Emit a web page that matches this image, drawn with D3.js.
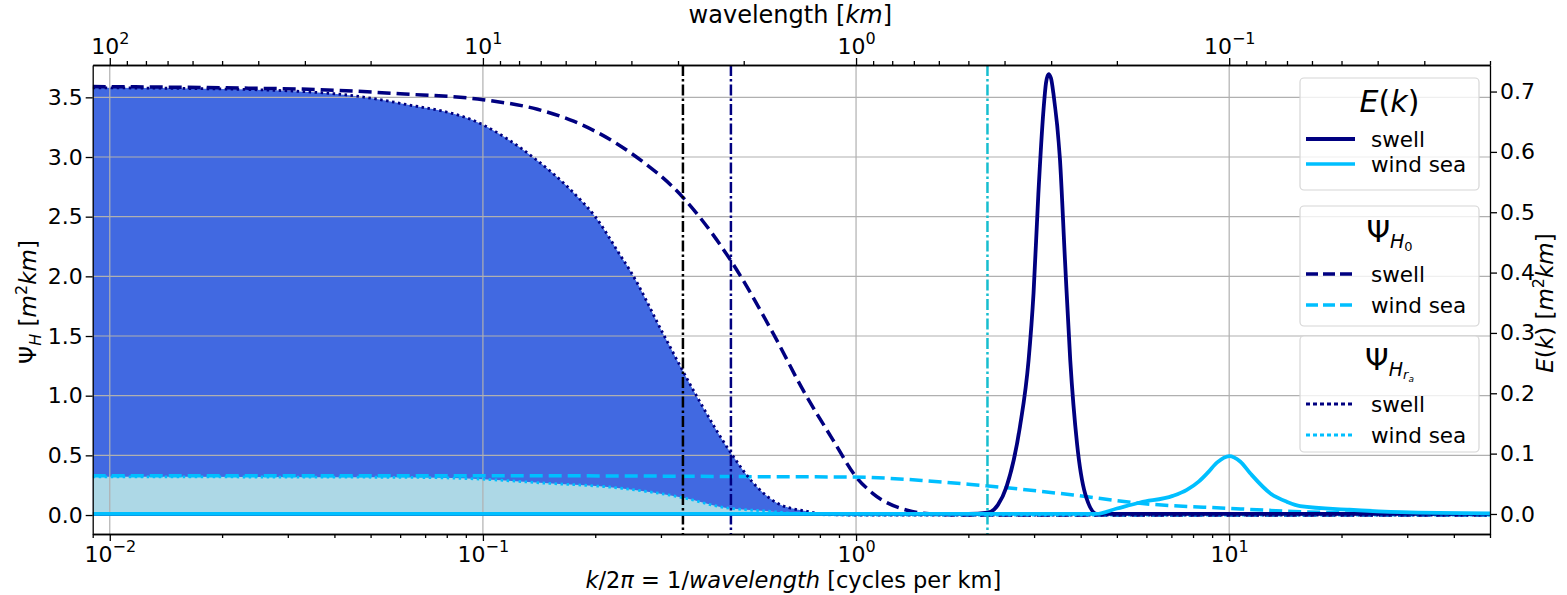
<!DOCTYPE html>
<html>
<head>
<meta charset="utf-8">
<script src="https://cdn.jsdelivr.net/npm/d3@7"></script>
<style>
  body { margin: 0; background: #fff; }
  svg text { font-family: "DejaVu Sans", sans-serif; fill: #000; }
</style>
</head>
<body>
<svg id="chart" width="1567" height="595"></svg>
<script>
// wavenumber k/2pi [cycles per km] and read-off values for every series
const swellEk = [0.009, 2.0, 2.25, 2.4, 2.53, 2.75, 2.9, 2.99, 3.08, 3.18, 3.23, 3.28, 3.33, 3.38, 3.52, 3.63, 3.75, 3.91, 4.11, 4.42, 50];
const swellE  = [0, 0, 0.002, 0.015, 0.045, 0.145, 0.255, 0.366, 0.53, 0.67, 0.715, 0.729, 0.722, 0.697, 0.587, 0.421, 0.255, 0.117, 0.034, 0, 0];

const windEk = [0.009, 4.4, 5.0, 5.77, 7.06, 7.7, 8.3, 8.75, 9.27, 10, 10.7, 11.4, 12.9, 14.3, 15.5, 21, 29, 50];
const windE  = [0, 0, 0.009, 0.019, 0.03, 0.04, 0.054, 0.068, 0.085, 0.096, 0.087, 0.067, 0.034, 0.02, 0.013, 0.007, 0.003, 0.001];

const swellH0k = [0.009, 0.02, 0.04, 0.06, 0.1, 0.14, 0.175, 0.25, 0.344, 0.46, 0.6, 0.72, 0.867, 1.0, 1.11, 1.37, 1.65, 2.0, 50];
const swellH0  = [3.59, 3.58, 3.56, 3.53, 3.48, 3.40, 3.30, 3.03, 2.66, 2.14, 1.52, 1.05, 0.63, 0.32, 0.18, 0.04, 0.005, 0, 0];

const swellHrk = [0.009, 0.02, 0.04, 0.06, 0.1, 0.136, 0.175, 0.2, 0.233, 0.25, 0.304, 0.375, 0.462, 0.53, 0.614, 0.74, 0.83, 1.0, 50];
const swellHr  = [3.58, 3.57, 3.53, 3.45, 3.27, 3.00, 2.70, 2.50, 2.18, 2.03, 1.52, 0.99, 0.52, 0.27, 0.10, 0.03, 0.005, 0, 0];

const windH0k = [0.009, 0.1, 0.25, 0.5, 0.98, 1.5, 2.0, 2.26, 3.82, 5.77, 10, 15.5, 28.7, 50];
const windH0  = [0.33, 0.33, 0.327, 0.322, 0.318, 0.29, 0.258, 0.243, 0.168, 0.098, 0.056, 0.028, 0.01, 0.003];

const windHrk = [0.009, 0.06, 0.1, 0.142, 0.233, 0.35, 0.43, 0.59, 0.75, 1.0, 50];
const windHr  = [0.32, 0.316, 0.30, 0.27, 0.225, 0.14, 0.07, 0.03, 0.005, 0, 0];

const cutoffs = [
  { k: 0.3436, color: "#000000" },
  { k: 0.462, color: "#000080" },
  { k: 2.25, color: "#17becf" }
];

const leftTicks = [0, 0.5, 1.0, 1.5, 2.0, 2.5, 3.0, 3.5];
const rightTicks = [0, 0.1, 0.2, 0.3, 0.4, 0.5, 0.6, 0.7];
const bottomMajor = [0.01, 0.1, 1, 10];
const bottomMajorExp = ["\u22122", "\u22121", "0", "1"];
const topMajor = [100, 10, 1, 0.1];
const topMajorExp = ["2", "1", "0", "\u22121"];

const navy = "#000080";
const sky = "#00bfff";

const width = 1567;
const height = 595;
const m = { l: 92.7, r: 1490, t: 65, b: 534 };

const svg = d3.select("#chart");

const x = d3.scaleLog().domain([0.009, 50]).range([m.l, m.r]);
const xTop = d3.scaleLog().domain([1 / 0.009, 1 / 50]).range([m.l, m.r]);
const yL = d3.scaleLinear().domain([-0.159, 3.771]).range([m.b, m.t]);
const yR = d3.scaleLinear().domain([-0.0332, 0.744]).range([m.b, m.t]);

svg.append("defs").append("clipPath").attr("id", "plot")
  .append("rect").attr("x", m.l).attr("y", m.t).attr("width", m.r - m.l).attr("height", m.b - m.t);

const plot = svg.append("g").attr("clip-path", "url(#plot)");

const zip = (ks, vs) => ks.map((k, i) => [k, vs[i]]);

function areaFor(y) {
  return d3.area().x(d => x(d[0])).y0(y(0)).y1(d => y(d[1])).curve(d3.curveMonotoneX);
}
function lineFor(y) {
  return d3.line().x(d => x(d[0])).y(d => y(d[1])).curve(d3.curveMonotoneX);
}

// filled areas under the H_ra curves
plot.append("path").attr("d", areaFor(yL)(zip(swellHrk, swellHr))).attr("fill", "#4169e1");
plot.append("path").attr("d", areaFor(yL)(zip(windHrk, windHr))).attr("fill", "#add8e6");

// grid
const minorK = [];
for (let e = -3; e <= 1; e++) {
  for (let j = 2; j <= 9; j++) {
    const v = j * Math.pow(10, e);
    if (v >= 0.009 && v <= 50) minorK.push(v);
  }
}
const minorW = [];
for (let e = -2; e <= 2; e++) {
  for (let j = 2; j <= 9; j++) {
    const v = j * Math.pow(10, e);
    if (v >= 0.02 && v <= 1 / 0.009) minorW.push(v);
  }
}

const grid = plot.append("g").attr("stroke", "#b0b0b0").attr("stroke-width", 1.2);
grid.selectAll(".gx").data(bottomMajor).join("line")
  .attr("x1", d => x(d)).attr("x2", d => x(d)).attr("y1", m.t).attr("y2", m.b);
grid.selectAll(".gy").data(leftTicks).join("line")
  .attr("x1", m.l).attr("x2", m.r).attr("y1", d => yL(d)).attr("y2", d => yL(d));

// psi curves (left axis)
plot.append("path").attr("d", lineFor(yL)(zip(swellH0k, swellH0)))
  .attr("fill", "none").attr("stroke", navy).attr("stroke-width", 3.5).attr("stroke-dasharray", "13,6");
plot.append("path").attr("d", lineFor(yL)(zip(windH0k, windH0)))
  .attr("fill", "none").attr("stroke", sky).attr("stroke-width", 3.5).attr("stroke-dasharray", "13,6");
plot.append("path").attr("d", lineFor(yL)(zip(swellHrk, swellHr)))
  .attr("fill", "none").attr("stroke", navy).attr("stroke-width", 2.8).attr("stroke-dasharray", "2.5,3.5");
plot.append("path").attr("d", lineFor(yL)(zip(windHrk, windHr)))
  .attr("fill", "none").attr("stroke", sky).attr("stroke-width", 2.8).attr("stroke-dasharray", "2.5,3.5");

// vertical cut-off lines
plot.selectAll(".cut").data(cutoffs).join("line")
  .attr("x1", d => x(d.k)).attr("x2", d => x(d.k)).attr("y1", m.t).attr("y2", m.b)
  .attr("stroke", d => d.color).attr("stroke-width", 2.5).attr("stroke-dasharray", "11,3,2.5,3");

// E(k) curves (right axis)
plot.append("path").attr("d", lineFor(yR)(zip(swellEk, swellE)))
  .attr("fill", "none").attr("stroke", navy).attr("stroke-width", 3.8);
plot.append("path").attr("d", lineFor(yR)(zip(windEk, windE)))
  .attr("fill", "none").attr("stroke", sky).attr("stroke-width", 3.8);

// axes
const tickFont = 22;

function rich(sel, parts, base) {
  let cur = 0;
  parts.forEach(p => {
    const off = p.off || 0;
    sel.append("tspan")
      .attr("dy", off - cur)
      .attr("font-size", p.size || base)
      .attr("font-style", p.it ? "italic" : null)
      .text(p.t);
    cur = off;
  });
}

const axisStyle = g => {
  g.select(".domain").attr("stroke", "#000").attr("stroke-width", 1.3);
  g.selectAll(".tick line").attr("stroke", "#000").attr("stroke-width", 1.3);
};

const xb = svg.append("g").attr("transform", `translate(0,${m.b})`)
  .call(d3.axisBottom(x).tickValues(bottomMajor).tickFormat("").tickSize(7).tickSizeOuter(0)).call(axisStyle);
svg.append("g").attr("transform", `translate(0,${m.b})`)
  .call(d3.axisBottom(x).tickValues(minorK).tickFormat("").tickSize(4).tickSizeOuter(0)).call(axisStyle);
xb.selectAll(".tick").append("text")
  .attr("y", 28).attr("text-anchor", "middle")
  .each(function (d, i) {
    rich(d3.select(this), [{ t: "10" }, { t: bottomMajorExp[i], size: 16, off: -10 }], tickFont);
  });

const xt = svg.append("g").attr("transform", `translate(0,${m.t})`)
  .call(d3.axisTop(xTop).tickValues(topMajor).tickFormat("").tickSize(7).tickSizeOuter(0)).call(axisStyle);
svg.append("g").attr("transform", `translate(0,${m.t})`)
  .call(d3.axisTop(xTop).tickValues(minorW).tickFormat("").tickSize(4).tickSizeOuter(0)).call(axisStyle);
xt.selectAll(".tick").append("text")
  .attr("y", -11).attr("text-anchor", "middle")
  .each(function (d, i) {
    rich(d3.select(this), [{ t: "10" }, { t: topMajorExp[i], size: 16, off: -10 }], tickFont);
  });

svg.append("g").attr("transform", `translate(${m.l},0)`)
  .call(d3.axisLeft(yL).tickValues(leftTicks).tickFormat(d3.format(".1f")).tickSize(7).tickSizeOuter(0))
  .call(axisStyle)
  .call(g => g.selectAll(".tick text").attr("font-size", tickFont).attr("x", -10).attr("fill", "#000"));

svg.append("g").attr("transform", `translate(${m.r},0)`)
  .call(d3.axisRight(yR).tickValues(rightTicks).tickFormat(d3.format(".1f")).tickSize(7).tickSizeOuter(0))
  .call(axisStyle)
  .call(g => g.selectAll(".tick text").attr("font-size", tickFont).attr("x", 10).attr("fill", "#000"));

// axis labels
rich(svg.append("text").attr("x", (m.l + m.r) / 2 + 2).attr("y", 588).attr("text-anchor", "middle"), [
  { t: "k", it: true }, { t: "/2" }, { t: "\u03c0", it: true }, { t: " = 1/" }, { t: "wavelength", it: true },
  { t: " [cycles per km]" }
], 22.5);

rich(svg.append("text").attr("x", (m.l + m.r) / 2 - 1).attr("y", 23).attr("text-anchor", "middle"), [
  { t: "wavelength [" }, { t: "km", it: true }, { t: "]" }
], 24);

rich(svg.append("text").attr("transform", "translate(36,302) rotate(-90)").attr("text-anchor", "middle"), [
  { t: "\u03a8" }, { t: "H", it: true, size: 16, off: 5 }, { t: " [" }, { t: "m", it: true },
  { t: "2", size: 16, off: -9 }, { t: "km", it: true }, { t: "]" }
], 23);

rich(svg.append("text").attr("transform", "translate(1553,303) rotate(-90)").attr("text-anchor", "middle"), [
  { t: "E", it: true }, { t: "(" }, { t: "k", it: true }, { t: ") [" }, { t: "m", it: true },
  { t: "2", size: 16, off: -9 }, { t: "km", it: true }, { t: "]" }
], 23);

// legends
const legends = [
  {
    y0: 78, y1: 190, titleY: 112,
    title: [{ t: "E", it: true }, { t: "(" }, { t: "k", it: true }, { t: ")" }],
    rows: [
      { label: "swell", color: navy, dash: null, w: 4.2, y: 139 },
      { label: "wind sea", color: sky, dash: null, w: 3.6, y: 164 }
    ]
  },
  {
    y0: 206, y1: 326, titleY: 242,
    title: [{ t: "\u03a8" }, { t: "H", it: true, size: 19, off: 6 }, { t: "0", size: 13, off: 9 }],
    rows: [
      { label: "swell", color: navy, dash: "12,5", w: 3.6, y: 274 },
      { label: "wind sea", color: sky, dash: "12,5", w: 3.6, y: 305 }
    ]
  },
  {
    y0: 336, y1: 452, titleY: 370,
    title: [{ t: "\u03a8" }, { t: "H", it: true, size: 19, off: 6 }, { t: "r", it: true, size: 13, off: 9 },
      { t: "a", it: true, size: 9, off: 12 }],
    rows: [
      { label: "swell", color: navy, dash: "4,3", w: 3.2, y: 404 },
      { label: "wind sea", color: sky, dash: "4,3", w: 3.2, y: 435 }
    ]
  }
];

const lx0 = 1300;
const lx1 = 1479;
legends.forEach(lg => {
  const g = svg.append("g");
  g.append("rect")
    .attr("x", lx0).attr("y", lg.y0).attr("width", lx1 - lx0).attr("height", lg.y1 - lg.y0)
    .attr("rx", 4).attr("fill", "rgba(255,255,255,0.8)").attr("stroke", "#d6d6d6").attr("stroke-width", 1.2);
  rich(g.append("text").attr("x", (lx0 + lx1) / 2).attr("y", lg.titleY).attr("text-anchor", "middle"), lg.title, 30);
  lg.rows.forEach(r => {
    g.append("line")
      .attr("x1", 1306).attr("x2", 1355).attr("y1", r.y).attr("y2", r.y)
      .attr("stroke", r.color).attr("stroke-width", r.w).attr("stroke-dasharray", r.dash);
    g.append("text").attr("x", 1371).attr("y", r.y).attr("dy", "0.35em").attr("font-size", 21.5).text(r.label);
  });
});
</script>
</body>
</html>
